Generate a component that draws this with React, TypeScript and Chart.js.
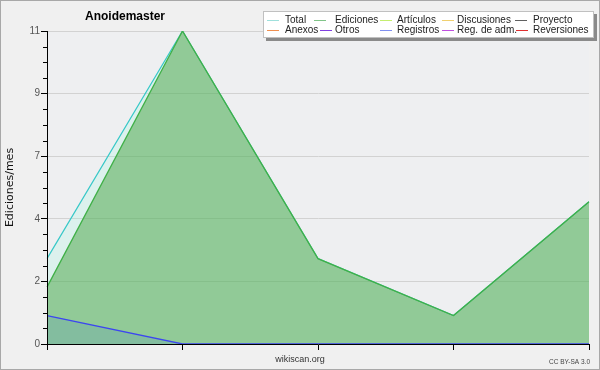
import React, { useEffect, useRef } from "react";
import { Chart, registerables } from "chart.js";

Chart.register(...registerables);

const categories = ["1", "2", "3", "4", "5"];
const totalValues = [3, 11, 3, 1, 5];
const edicionesValues = [2, 11, 3, 1, 5];
const registrosValues = [1, 0, 0, 0, 0];

const yTickValues = [0, 2.2, 4.4, 6.6, 8.8, 11];
const yTickLabels = ["0", "2", "4", "7", "9", "11"];

const chartTitle = "Anoidemaster";
const yAxisTitle = "Ediciones/mes";
const xAxisTitle = "wikiscan.org";
const creditText = "CC BY-SA 3.0";

const legendLabels = [
  "Total", "Ediciones", "Artículos", "Discusiones", "Proyecto",
  "Anexos", "Otros", "Registros", "Reg. de adm.", "Reversiones",
];
const legendColors = [
  "#9fe0dc", "#80c488", "#c4ee70", "#f0d070", "#606060",
  "#f09050", "#8040e0", "#8090f0", "#c050e0", "#e03030",
];

const decorPlugin = {
  id: "decor",
  beforeDraw(chart: any) {
    const { ctx, chartArea: a, width, height } = chart;
    ctx.save();
    ctx.fillStyle = "#f0f0f0";
    ctx.fillRect(0, 0, width, height);
    ctx.strokeStyle = "#a8a8a8";
    ctx.lineWidth = 1;
    ctx.strokeRect(0.5, 0.5, width - 1, height - 1);
    ctx.fillStyle = "#eeeff1";
    ctx.fillRect(a.left, a.top, a.right - a.left, a.bottom - a.top);
    ctx.restore();
  },
  afterDraw(chart: any) {
    const { ctx, chartArea: a } = chart;
    const ys = chart.scales.y;
    ctx.save();
    // minor ticks
    ctx.strokeStyle = "#000";
    ctx.lineWidth = 1;
    ctx.beginPath();
    for (let i = 1; i < 20; i++) {
      if (i % 4 === 0) continue;
      const py = Math.round(ys.getPixelForValue((11 / 20) * i)) + 0.5;
      ctx.moveTo(a.left - 4, py);
      ctx.lineTo(a.left, py);
    }
    ctx.stroke();

    // title
    ctx.fillStyle = "#000";
    ctx.font = "bold 12px 'Liberation Sans'";
    ctx.textAlign = "center";
    ctx.textBaseline = "middle";
    ctx.fillText(chartTitle, 125, 17);

    // x axis caption
    ctx.fillStyle = "#333";
    ctx.font = "9px 'Liberation Sans'";
    ctx.fillText(xAxisTitle, 300, 360);

    // legend box
    ctx.fillStyle = "#8a8a8a";
    ctx.fillRect(266, 14, 331, 27);
    ctx.fillStyle = "#ffffff";
    ctx.fillRect(263, 11, 331, 27);
    ctx.strokeStyle = "#c0c0c0";
    ctx.strokeRect(263.5, 11.5, 330, 26);

    const textX = [285, 335, 397, 457, 533];
    const lineX = [
      [267, 314, 380, 442, 515],
      [267, 320, 380, 442, 516],
    ];
    const rowY = [19.5, 29.5];
    ctx.font = "10px 'Liberation Sans'";
    ctx.textAlign = "left";
    ctx.textBaseline = "middle";
    legendLabels.forEach((lab, i) => {
      const r = Math.floor(i / 5);
      const c = i % 5;
      const y = rowY[r];
      const lx = lineX[r][c];
      ctx.strokeStyle = legendColors[i];
      ctx.beginPath();
      ctx.moveTo(lx, Math.round(y) + 0.5);
      ctx.lineTo(lx + 12, Math.round(y) + 0.5);
      ctx.stroke();
      ctx.fillStyle = "#222";
      ctx.fillText(lab, textX[c], y + 0.5);
    });

    // credit
    ctx.fillStyle = "#444";
    ctx.font = "6.5px 'Liberation Sans'";
    ctx.textAlign = "right";
    ctx.fillText(creditText, 590, 362);
    ctx.restore();
  },
};

export default function App() {
  const ref = useRef<HTMLCanvasElement | null>(null);
  useEffect(() => {
    if (!ref.current) return;
    const chart = new Chart(ref.current, {
      type: "line",
      data: {
        labels: categories,
        datasets: [
          {
            label: "Total",
            data: totalValues,
            borderColor: "#38c8c8",
            backgroundColor: "rgba(150,250,225,0.2)",
            borderWidth: 1.2,
            fill: "origin",
            pointRadius: 0,
            tension: 0,
            order: 3,
          },
          {
            label: "Ediciones",
            data: edicionesValues,
            borderColor: "#40b048",
            backgroundColor: "rgba(70,164,66,0.5)",
            borderWidth: 1.3,
            fill: "origin",
            pointRadius: 0,
            tension: 0,
            order: 2,
          },
          {
            label: "Registros",
            data: registrosValues,
            borderColor: "#3c46f0",
            backgroundColor: "rgba(53,116,205,0.15)",
            borderWidth: 1.3,
            fill: "origin",
            pointRadius: 0,
            tension: 0,
            order: 1,
          },
        ],
      },
      options: {
        responsive: false,
        animation: false,
        events: [],
        layout: { padding: { top: 31, right: 11, left: 0, bottom: 0 } },
        plugins: {
          legend: { display: false },
          title: { display: false },
          tooltip: { enabled: false },
        },
        scales: {
          x: {
            type: "category",
            offset: false,
            afterFit(s: any) {
              s.height = 26;
            },
            grid: {
              display: true,
              drawOnChartArea: false,
              drawTicks: true,
              tickLength: 6,
              tickColor: "#000",
              color: "#000",
            },
            border: { display: true, color: "#000", width: 1, z: 1 },
            ticks: { display: false },
            title: { display: false },
          },
          y: {
            min: 0,
            max: 11,
            afterFit(s: any) {
              s.width = 47;
            },
            afterBuildTicks(s: any) {
              s.ticks = yTickValues.map((v) => ({ value: v }));
            },
            grid: {
              color: "#d2d2d2",
              drawTicks: true,
              tickLength: 6,
              tickColor: "#000",
            },
            border: { display: true, color: "#000", width: 1, z: 1 },
            ticks: {
              padding: 1,
              color: "#555",
              font: { family: "'Liberation Sans'", size: 10 },
              callback(value: any) {
                const idx = yTickValues.findIndex((v) => Math.abs(v - Number(value)) < 1e-6);
                return idx >= 0 ? yTickLabels[idx] : "";
              },
            },
            title: {
              display: true,
              text: yAxisTitle,
              color: "#111",
              font: { family: "'DejaVu Sans'", size: 11 },
              padding: { top: 4, bottom: 0 },
            },
          },
        },
      },
      plugins: [decorPlugin],
    } as any);
    return () => chart.destroy();
  }, []);
  return (
    <div style={{ position: "fixed", left: 0, top: 0, width: 600, height: 370 }}>
      <canvas ref={ref} width={600} height={370} style={{ width: 600, height: 370, display: "block" }} />
    </div>
  );
}
